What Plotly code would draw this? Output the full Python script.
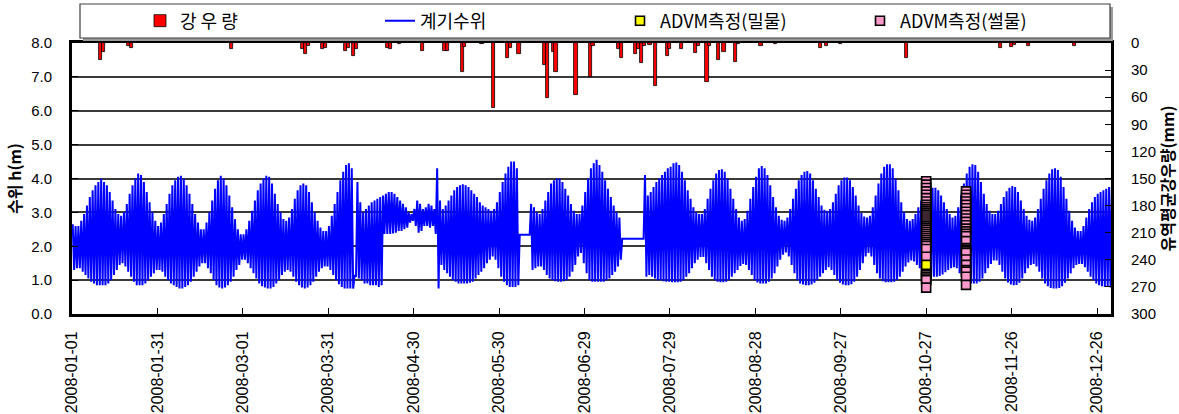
import plotly.graph_objects as go
import pandas as pd

# ---------------- data ----------------
# daily high / low water level (m), 2008-01-01 .. 2008-12-31
hw_high = [
    2.65, 2.6, 2.6, 2.75, 2.95, 3.2, 3.45, 3.65, 3.8, 3.9,
    4.0, 3.9, 3.8, 3.6, 3.35, 3.1, 2.95, 2.9, 3.0, 3.25,
    3.55, 3.8, 4.0, 4.15, 4.1, 3.9, 3.6, 3.3, 3.0, 2.75,
    2.6, 2.7, 2.95, 3.25, 3.55, 3.8, 3.95, 4.05, 4.08, 4.0,
    3.8, 3.55, 3.25, 2.95, 2.7, 2.5, 2.5, 2.7, 3.0, 3.35,
    3.7, 3.95, 4.08, 4.0, 3.8, 3.5, 3.15, 2.8, 2.5, 2.35,
    2.35, 2.5, 2.75, 3.05, 3.35, 3.65, 3.85, 4.0, 4.08, 4.05,
    3.85, 3.55, 3.25, 3.0, 2.8, 2.75, 2.85, 3.1, 3.4, 3.65,
    3.8, 3.85, 3.8, 3.6, 3.3, 3.0, 2.75, 2.55, 2.45, 2.45,
    2.6, 2.9, 3.25, 3.6, 3.95, 4.2, 4.4, 4.45, 4.3, 1.15,
    3.9, 3.3, 3.0, 3.1, 3.2, 3.3, 3.35, 3.4, 3.45, 3.5,
    3.55, 3.6, 3.6, 3.55, 3.45, 3.35, 3.25, 3.15, 3.0, 2.95,
    3.1, 3.35, 3.25, 3.1, 3.15, 3.25, 3.2, 3.1, 4.3, 3.35,
    3.1, 3.2, 3.35, 3.5, 3.65, 3.75, 3.8, 3.83, 3.8, 3.75,
    3.65, 3.55, 3.45, 3.3, 3.2, 3.15, 3.1, 3.05, 3.1, 3.3,
    3.6, 3.9, 4.15, 4.35, 4.5, 4.5, 4.3, 2.34, 2.34, 2.34,
    2.34, 3.25, 3.15, 3.0, 2.95, 3.1, 3.35, 3.6, 3.85, 3.95,
    4.0, 4.0, 3.9, 3.7, 3.5, 3.25, 3.05, 2.95, 2.95, 3.2,
    3.6, 4.0, 4.3, 4.45, 4.55, 4.4, 4.2, 3.95, 3.7, 3.45,
    3.2, 3.0, 2.85, 2.22, 2.22, 2.22, 2.22, 2.22, 2.22, 2.22,
    2.22, 4.1, 3.5, 3.6, 3.75, 3.9, 4.0, 4.1, 4.2, 4.3,
    4.35, 4.45, 4.47, 4.4, 4.2, 3.95, 3.65, 3.4, 3.15, 3.0,
    2.95, 2.95, 3.1, 3.4, 3.7, 3.95, 4.15, 4.25, 4.27, 4.2,
    4.0, 3.7, 3.4, 3.1, 2.85, 2.75, 2.8, 3.05, 3.4, 3.75,
    4.05, 4.3, 4.37, 4.3, 4.1, 3.8, 3.45, 3.15, 2.9, 2.78,
    2.75, 2.85, 3.1, 3.4, 3.7, 3.95, 4.1, 4.2, 4.22, 4.15,
    3.95, 3.7, 3.45, 3.2, 3.08, 3.05, 3.1, 3.3, 3.55, 3.8,
    3.95, 4.03, 4.03, 3.95, 3.75, 3.5, 3.2, 2.98, 2.88, 2.85,
    2.9, 3.15, 3.5, 3.85, 4.15, 4.35, 4.42, 4.42, 4.3, 4.0,
    3.65, 3.3, 3.0, 2.8, 2.75, 2.8, 2.95, 3.15, 3.35, 3.5,
    3.62, 3.7, 3.73, 3.73, 3.65, 3.5, 3.3, 3.1, 2.95, 2.85,
    2.9, 3.15, 3.5, 3.85, 4.15, 4.35, 4.42, 4.4, 4.2, 3.9,
    3.55, 3.25, 3.05, 2.95, 2.95, 3.05, 3.25, 3.45, 3.62, 3.73,
    3.78, 3.75, 3.6, 3.35, 3.1, 2.9, 2.78, 2.75, 2.85, 3.1,
    3.4, 3.7, 3.95, 4.15, 4.27, 4.3, 4.25, 4.05, 3.75, 3.4,
    3.05, 2.75, 2.55, 2.45, 2.45, 2.6, 2.85, 3.1, 3.3, 3.45,
    3.55, 3.6, 3.65, 3.7, 3.75, 3.75,
]
hw_low = [
    1.3, 1.35, 1.35, 1.25, 1.15, 1.05, 0.95, 0.9, 0.85, 0.85,
    0.85, 0.85, 0.9, 1.0, 1.15, 1.3, 1.45, 1.5, 1.4, 1.25,
    1.1, 0.95, 0.85, 0.85, 0.85, 0.9, 1.0, 1.1, 1.2, 1.3,
    1.3, 1.25, 1.1, 1.0, 0.9, 0.85, 0.8, 0.75, 0.75, 0.8,
    0.85, 0.95, 1.1, 1.25, 1.4, 1.5, 1.5, 1.35, 1.2, 1.0,
    0.85, 0.78, 0.75, 0.78, 0.85, 0.95, 1.1, 1.3, 1.45, 1.6,
    1.6, 1.5, 1.35, 1.2, 1.05, 0.9, 0.82, 0.78, 0.75, 0.75,
    0.8, 0.9, 1.0, 1.15, 1.25, 1.3, 1.25, 1.1, 0.95, 0.85,
    0.78, 0.75, 0.78, 0.85, 0.95, 1.1, 1.25, 1.35, 1.4, 1.4,
    1.3, 1.15, 1.0, 0.88, 0.8, 0.75, 0.75, 0.75, 0.75, 1.1,
    1.05, 1.0, 0.9, 0.9, 0.85, 0.85, 0.85, 0.8, 0.85, 2.36,
    2.36, 2.36, 2.38, 2.4, 2.45, 2.45, 2.5, 2.55, 2.7, 2.75,
    2.6, 2.4, 2.45, 2.6, 2.6, 2.55, 2.6, 2.36, 0.75, 1.45,
    1.3, 1.2, 1.1, 1.0, 0.95, 0.9, 0.9, 0.9, 0.9, 0.92,
    0.95, 1.05, 1.15, 1.25, 1.35, 1.5, 1.6, 1.7, 1.6, 1.35,
    1.1, 0.95, 0.85, 0.8, 0.8, 0.8, 0.85, 2.34, 2.34, 2.34,
    2.34, 1.3, 1.35, 1.4, 1.4, 1.3, 1.15, 1.05, 1.0, 0.97,
    0.95, 0.95, 0.97, 1.0, 1.1, 1.25, 1.45, 1.7, 1.8, 1.5,
    1.2, 1.0, 0.95, 0.95, 0.95, 0.95, 0.95, 1.0, 1.05, 1.15,
    1.25, 1.4, 1.6, 2.22, 2.22, 2.22, 2.22, 2.22, 2.22, 2.22,
    2.22, 1.1, 1.15, 1.1, 1.05, 1.0, 1.0, 0.97, 0.95, 0.95,
    0.94, 0.94, 0.94, 0.95, 1.0, 1.1, 1.2, 1.35, 1.5, 1.6,
    1.68, 1.68, 1.5, 1.3, 1.1, 1.0, 0.95, 0.94, 0.94, 0.95,
    1.0, 1.1, 1.2, 1.3, 1.42, 1.48, 1.45, 1.3, 1.15, 1.0,
    0.93, 0.9, 0.9, 0.9, 0.95, 1.05, 1.2, 1.4, 1.6, 1.75,
    1.82, 1.7, 1.45, 1.2, 1.0, 0.9, 0.87, 0.85, 0.85, 0.87,
    0.92, 1.0, 1.1, 1.2, 1.3, 1.38, 1.3, 1.15, 1.0, 0.92,
    0.87, 0.85, 0.85, 0.88, 0.95, 1.1, 1.3, 1.5, 1.7, 1.8,
    1.7, 1.45, 1.2, 1.05, 0.97, 0.94, 0.94, 0.94, 0.95, 1.0,
    1.1, 1.25, 1.4, 1.52, 1.58, 1.55, 1.45, 1.35, 1.25, 1.18,
    1.13, 1.1, 1.1, 1.1, 1.12, 1.17, 1.23, 1.3, 1.35, 1.38,
    1.35, 1.2, 1.05, 0.95, 0.9, 0.9, 0.9, 0.9, 0.95, 1.05,
    1.2, 1.35, 1.48, 1.58, 1.58, 1.45, 1.25, 1.05, 0.93, 0.87,
    0.85, 0.86, 0.92, 1.05, 1.2, 1.35, 1.45, 1.48, 1.4, 1.25,
    1.05, 0.9, 0.82, 0.77, 0.75, 0.75, 0.77, 0.82, 0.92, 1.05,
    1.2, 1.35, 1.45, 1.48, 1.48, 1.38, 1.25, 1.1, 1.0, 0.9,
    0.85, 0.82, 0.8, 0.8, 0.78, 0.78,
]

rain_dates = [
    "2008-01-11", "2008-01-12", "2008-01-21", "2008-01-22", "2008-02-26",
    "2008-03-22", "2008-03-23", "2008-03-24", "2008-03-29", "2008-03-30",
    "2008-04-06", "2008-04-07", "2008-04-09", "2008-04-10", "2008-04-21",
    "2008-04-22", "2008-04-25", "2008-05-03", "2008-05-11", "2008-05-12",
    "2008-05-17", "2008-05-18", "2008-05-24", "2008-05-28", "2008-06-02",
    "2008-06-03", "2008-06-06", "2008-06-15", "2008-06-16", "2008-06-18",
    "2008-06-19", "2008-06-26", "2008-07-01", "2008-07-02", "2008-07-11",
    "2008-07-12", "2008-07-17", "2008-07-18", "2008-07-19", "2008-07-20",
    "2008-07-22", "2008-07-24", "2008-07-28", "2008-07-29", "2008-08-02",
    "2008-08-07", "2008-08-08", "2008-08-11", "2008-08-12", "2008-08-15",
    "2008-08-17", "2008-08-21", "2008-08-22", "2008-08-30", "2008-09-04",
    "2008-09-20", "2008-09-22", "2008-09-27", "2008-10-20", "2008-11-22",
    "2008-11-26", "2008-11-27", "2008-12-02", "2008-12-18",
]
rain_mm = [
    19, 10, 3, 5, 7,
    6.5, 12, 3.5, 6.5, 5.5,
    8.5, 5.5, 14.5, 6.5, 5.5,
    6.5, 1, 9, 9, 9,
    32.5, 4, 1, 72, 16.5,
    5.5, 12, 24, 61, 10,
    32, 58, 38, 3, 7,
    16.5, 12, 7, 22, 3,
    2, 48, 14.5, 6.5, 7,
    11, 3, 43.5, 3.5, 19,
    10, 21.5, 1, 3.5, 1,
    5.5, 3.5, 1.5, 16.5, 6,
    4, 2, 3.5, 3,
]

advm_ebb_h_1027 = [
    3.92, 3.82, 3.72, 3.62, 3.52, 3.42, 3.32, 3.22,
    3.15, 3.09, 3.03, 2.97, 2.91, 2.85, 2.79, 2.73, 2.67, 2.61,
    2.55, 2.49, 2.43, 2.37, 2.31, 2.25, 2.19, 2.13, 2.07, 2.01,
    1.92, 1.69, 1.3, 1.25, 1.2, 1.15, 1.1, 1.05, 1.0, 0.78,
]
advm_ebb_h_1110 = [
    3.62, 3.52, 3.42, 3.32, 3.22, 3.12, 3.02, 2.92, 2.82, 2.72,
    2.62, 2.52, 2.44, 2.37, 2.3, 2.15, 1.95, 1.9, 1.85, 1.8,
    1.61, 1.45, 1.3, 1.25, 1.1, 0.86,
]
advm_ebb_dates = ["2008-10-27"] * len(advm_ebb_h_1027) + ["2008-11-10"] * len(advm_ebb_h_1110)
advm_ebb_h = advm_ebb_h_1027 + advm_ebb_h_1110
advm_flood_dates = ["2008-10-27"]
advm_flood_h = [1.45]

names = ["강 우 량", "계기수위", "ADVM측정(밀물)", "ADVM측정(썰물)"]
left_title = "수위 h(m)"
right_title = "유역평균강우량(mm)"

# ---------------- build ----------------
days = pd.date_range("2008-01-01", periods=len(hw_high), freq="D")
wl_t, wl_y = [], []
for d, hi, lo in zip(days, hw_high, hw_low):
    wl_t += [d + pd.Timedelta(hours=6), d + pd.Timedelta(hours=18)]
    wl_y += [hi, lo]

W, H = 1179, 414
ML, MR, MT, MB = 72, 68, 43, 100
PW, PH = W - ML - MR, H - MT - MB


def px_x(px):
    return (px - ML) / PW


def px_y(py):
    return (H - MB - py) / PH


TICKFONT = dict(family="Liberation Sans, Arial, sans-serif", size=15, color="black")
KFONT = "Noto Sans CJK KR, sans-serif"

fig = go.Figure()
fig.add_trace(go.Bar(
    x=rain_dates, y=rain_mm, yaxis="y2", name=names[0],
    marker=dict(color="#FF0000", line=dict(color="black", width=0.8)),
    width=86400000 * 1.1, legendrank=1,
))
fig.add_trace(go.Scatter(
    x=wl_t, y=wl_y, mode="lines", name=names[1],
    line=dict(color="#0000FF", width=2), legendrank=2,
))
fig.add_trace(go.Scatter(
    x=advm_ebb_dates, y=advm_ebb_h, mode="markers", name=names[3],
    marker=dict(symbol="square", size=9, color="#FF99CC",
                line=dict(color="black", width=1.6)),
    legendrank=4,
))
fig.add_trace(go.Scatter(
    x=advm_flood_dates, y=advm_flood_h, mode="markers", name=names[2],
    marker=dict(symbol="square", size=9, color="#FFFF00",
                line=dict(color="black", width=1.6)),
    legendrank=3,
))

# legend frame (box + shadow)
shapes = [
    dict(type="rect", xref="paper", yref="paper", layer="above",
         x0=px_x(83), x1=px_x(1113), y0=px_y(41), y1=px_y(7),
         fillcolor="#9a9a9a", line=dict(width=0)),
    dict(type="rect", xref="paper", yref="paper", layer="above",
         x0=px_x(80), x1=px_x(1110), y0=px_y(38), y1=px_y(4),
         fillcolor="white", line=dict(color="#404040", width=1.2)),
]

fig.update_layout(
    width=W, height=H,
    margin=dict(l=ML, r=MR, t=MT, b=MB, autoexpand=False),
    paper_bgcolor="white", plot_bgcolor="white",
    showlegend=True,
    bargap=0,
    shapes=shapes,
    legend=dict(
        orientation="h", x=px_x(140), xanchor="left",
        y=px_y(21), yanchor="middle",
        bgcolor="rgba(0,0,0,0)", borderwidth=0,
        entrywidth=195, entrywidthmode="pixels",
        font=dict(family=KFONT, size=18, color="black"),
        traceorder="normal",
    ),
    xaxis=dict(
        type="date",
        range=["2008-01-01", "2008-12-30 22:00"],
        tick0="2008-01-01", dtick=30 * 86400000,
        tickformat="%Y-%m-%d", tickangle=-90,
        ticks="inside", ticklen=6, tickcolor="black", tickwidth=1,
        showline=True, linecolor="black", linewidth=3, mirror=True,
        showgrid=False, zeroline=False,
        tickfont=dict(family=TICKFONT["family"], size=16, color="black"),
        ticklabelstandoff=8,
    ),
    yaxis=dict(
        range=[0, 8], dtick=1, tickformat=".1f",
        ticks="inside", ticklen=6, tickcolor="black", tickwidth=1,
        showline=True, linecolor="black", linewidth=3,
        showgrid=True, gridcolor="#3a3a3a", gridwidth=1.5,
        zeroline=False, tickfont=TICKFONT, ticklabelstandoff=14,
        title=dict(text=left_title, standoff=6,
                   font=dict(family=KFONT, size=16, color="black", weight="bold")),
    ),
    yaxis2=dict(
        overlaying="y", side="right", range=[300, 0], dtick=30,
        ticks="inside", ticklen=6, tickcolor="black", tickwidth=1,
        showline=True, linecolor="black", linewidth=3,
        showgrid=False, zeroline=False, tickfont=TICKFONT, ticklabelstandoff=14,
        title=dict(text=right_title, standoff=8,
                   font=dict(family=KFONT, size=16, color="black", weight="bold")),
    ),
)

fig.write_html(
    "out.html",
    config={"displayModeBar": False},
    post_script="document.body.style.margin='0px';document.body.style.overflow='hidden';",
)
